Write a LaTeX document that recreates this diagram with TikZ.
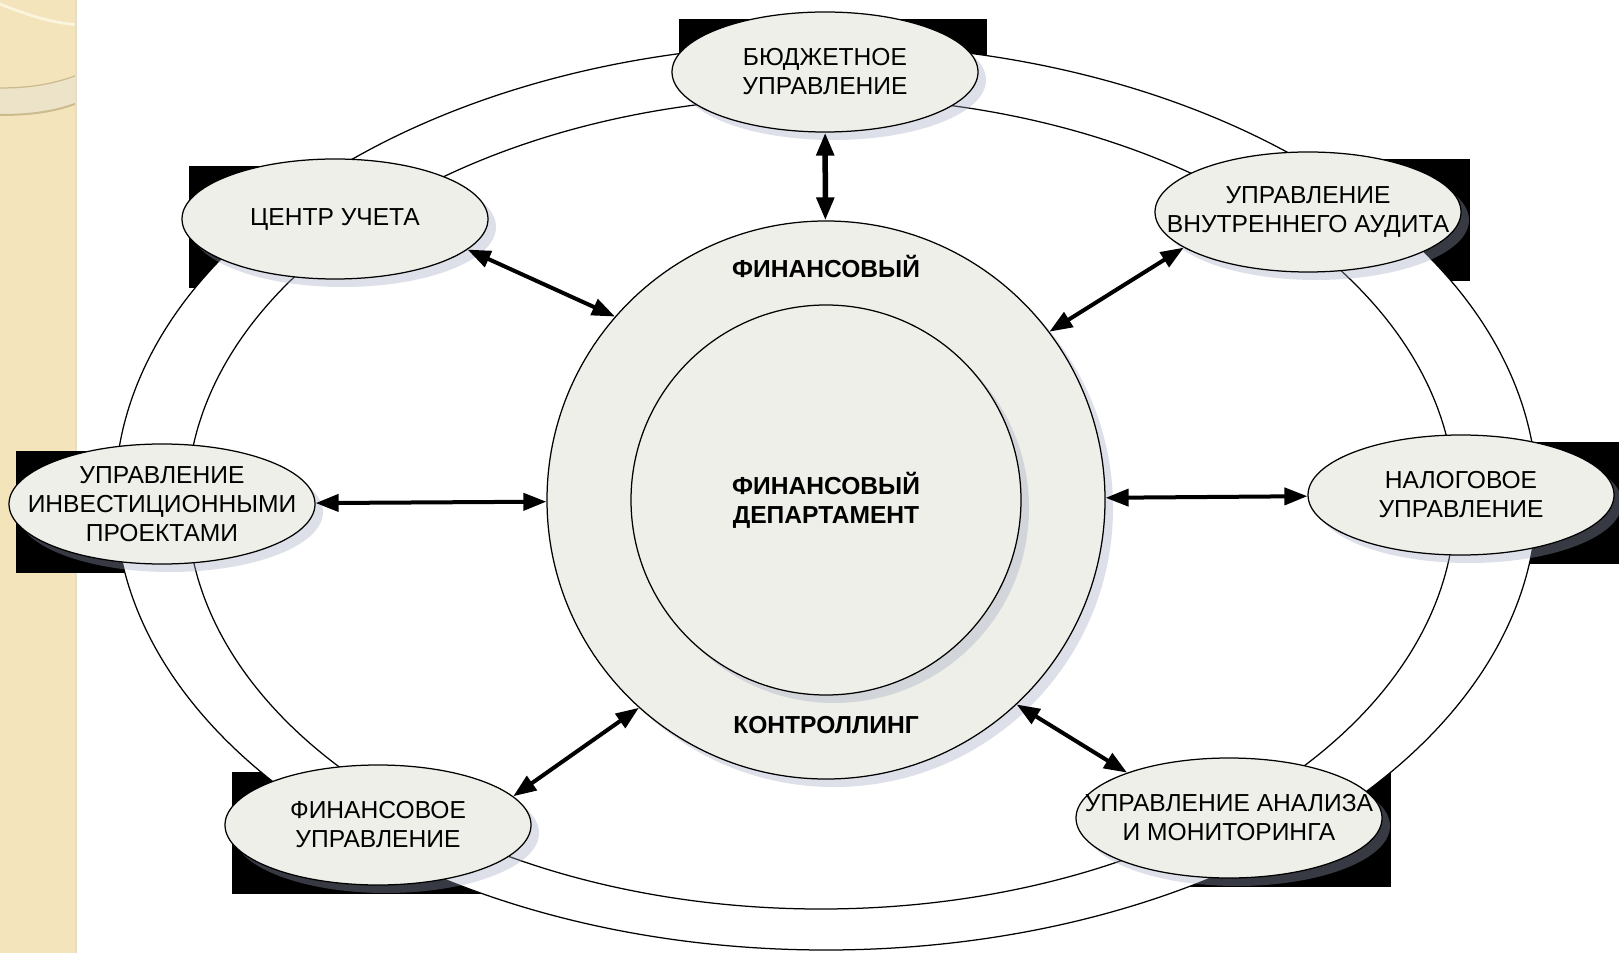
\documentclass[tikz,border=0pt]{standalone}
\usepackage{fontspec}
\setmainfont{Liberation Sans}
\usetikzlibrary{arrows.meta, positioning, calc, shapes.geometric, shadows}
\definecolor{cNode}{HTML}{EFEFE9}
\definecolor{cShd}{HTML}{9EA6C0}
\definecolor{cStrip}{HTML}{F3E4BB}
\definecolor{cStripL}{HTML}{FCF5DE}
\definecolor{cStripB}{HTML}{EDE3C8}
\definecolor{cStripD}{HTML}{CDBB90}
\pgfdeclarelayer{back}
\pgfdeclarelayer{rings}
\pgfsetlayers{back,rings,main}

\begin{document}
\begin{tikzpicture}[x=0.2mm, y=-0.2mm,
    nd/.style={ellipse, draw, fill=cNode, line width=0.25mm, inner sep=0pt,
               align=center, font=\fontsize{14}{16.5}\selectfont,
               drop shadow={shadow xshift=1.6mm, shadow yshift=-1.6mm,
                            fill=cShd, opacity=0.35}},
    sat/.style={nd, inner xsep=-12mm, inner ysep=-4mm,
                minimum width=61.2mm, minimum height=24mm},
    core/.style={nd, circle},
    lbl/.style={font=\fontsize{14}{16.5}\selectfont\bfseries, align=center},
    ring/.style={draw, line width=0.25mm},
    ar/.style={{Triangle[length=4.6mm,width=3.4mm]}-{Triangle[length=4.6mm,width=3.4mm]},
               line width=0.8mm},
]
\useasboundingbox (0,0) rectangle (1619,953);

% === CENTRE: department in the controlling ring ===
\node[core, minimum size=111.6mm] (fin) at (826,500) {};
\node[core, minimum size=78mm, font=\fontsize{14}{16.5}\selectfont\bfseries] (dep) at (826,500)
     {ФИНАНСОВЫЙ\\ДЕПАРТАМЕНТ};
\node[lbl] (finT) at (826,266) {ФИНАНСОВЫЙ};
\node[lbl] (finB) at (826,725) {КОНТРОЛЛИНГ};

% === SATELLITES ===
\node[sat] (bud) at (825,72)   {БЮДЖЕТНОЕ\\УПРАВЛЕНИЕ};
\node[sat] (uch) at (335,219)  {ЦЕНТР УЧЕТА};
\node[sat] (aud) at (1308,212) {УПРАВЛЕНИЕ\\ВНУТРЕННЕГО АУДИТА};
\node[sat] (inv) at (162,504)  {УПРАВЛЕНИЕ\\ИНВЕСТИЦИОННЫМИ\\ПРОЕКТАМИ};
\node[sat] (nal) at (1461,495) {НАЛОГОВОЕ\\УПРАВЛЕНИЕ};
\node[sat] (fu)  at (378,825)  {ФИНАНСОВОЕ\\УПРАВЛЕНИЕ};
\node[sat] (an)  at (1229,818) {УПРАВЛЕНИЕ АНАЛИЗА\\И МОНИТОРИНГА};

% === ARROWS ===
\draw[ar, line width=1.1mm] (bud) -- (fin);
\draw[ar] (uch.-13) -- (fin.139);
\draw[ar] (aud.196) -- (fin.37);
\draw[ar] (inv) -- (fin);
\draw[ar] (fin) -- (nal);
\draw[ar] (fu.12) -- (fin.-132);
\draw[ar] (an.156) -- (fin.-47);

% === RINGS (behind) ===
\begin{pgfonlayer}{rings}
\filldraw[ring, fill=white] (826,497) ellipse [x radius=711, y radius=453];
\draw[ring] (821,503) ellipse [x radius=634, y radius=406];
\end{pgfonlayer}

% === SLIDE STRIP + black boxes ===
\begin{pgfonlayer}{back}
\fill[cStrip] (0,0) rectangle (76,953);
\begin{scope}
  \clip (0,0) rectangle (76,953);
  \draw[cStripL, line width=0.55mm] (0,4) .. controls (25,14) and (50,23) .. (80,25);
  \fill[cStripB] (0,88) .. controls (30,88) and (55,84) .. (80,74)
                 -- (80,102) .. controls (55,112) and (30,115) .. (0,115) -- cycle;
  \draw[cStripD, line width=0.25mm] (0,88) .. controls (30,88) and (55,84) .. (80,74);
  \draw[cStripD, line width=0.4mm] (0,115) .. controls (30,115) and (55,112) .. (80,102);
\end{scope}
\draw[cStripD!50, line width=0.3mm] (76,0) -- (76,953);
\foreach \n in {bud,uch,aud,inv,nal,fu,an}
  \fill[black] ($(\n.west |- \n.south)+(8,8)$) rectangle ($(\n.east |- \n.north)+(8,8)$);
\end{pgfonlayer}

\end{tikzpicture}
\end{document}
